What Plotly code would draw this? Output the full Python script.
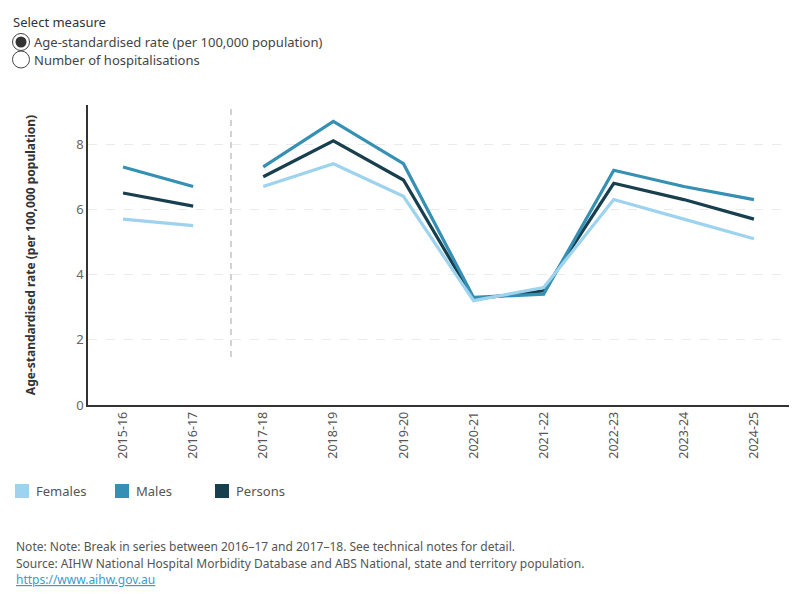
import plotly.graph_objects as go

# ---------------- data ----------------
years = ["2015-16", "2016-17", "2017-18", "2018-19", "2019-20",
         "2020-21", "2021-22", "2022-23", "2023-24", "2024-25"]
females = [5.7, 5.5, 6.7, 7.4, 6.4, 3.2, 3.6, 6.3, 5.7, 5.1]
males = [7.3, 6.7, 7.3, 8.7, 7.4, 3.3, 3.4, 7.2, 6.7, 6.3]
persons = [6.5, 6.1, 7.0, 8.1, 6.9, 3.25, 3.5, 6.8, 6.3, 5.7]
series_names = ["Females", "Males", "Persons"]
series_colors = ["#9dd3ee", "#3590b4", "#183f4e"]
break_after = 2  # series break between 2016-17 and 2017-18
y_ticks = [0, 2, 4, 6, 8]

# ---------------- layout geometry (pixels) ----------------
W, H = 800, 600
L, R, T, B = 88, 11, 105, 195
PW, PH = W - L - R, H - T - B


def px(x):
    return (x - L) / PW


def py(y):
    return (H - B - y) / PH


FONT = "Noto Sans"
fig = go.Figure()

draw_order = [2, 1, 0]  # persons, males, females (females on top)
all_vals = [females, males, persons]
for idx in draw_order:
    name, vals, col = series_names[idx], all_vals[idx], series_colors[idx]
    for seg_x, seg_y in [(years[:break_after], vals[:break_after]),
                         (years[break_after:], vals[break_after:])]:
        fig.add_trace(go.Scatter(
            x=seg_x, y=seg_y, mode="lines", name=name,
            line=dict(color=col, width=3.2), showlegend=False,
            hovertemplate="%{x}: %{y}<extra>" + name + "</extra>"))

shapes = []
# white gap in gridlines around the break
shapes.append(dict(type="rect", xref="x", yref="paper", x0=1.3, x1=1.7, y0=0.003, y1=1,
                   fillcolor="white", line=dict(width=0), layer="below"))
# break line
shapes.append(dict(type="line", xref="x", yref="y", x0=1.54, x1=1.54, y0=1.47, y1=9.2,
                   line=dict(color="#b5b5b5", width=1.2, dash="6px,5px")))

annotations = []
# selector
annotations.append(dict(text="Select measure", xref="paper", yref="paper", x=px(11), y=py(22),
                        xanchor="left", yanchor="middle", showarrow=False,
                        font=dict(family=FONT, size=13, color="#333333")))
radio_labels = ["Age-standardised rate (per 100,000 population)", "Number of hospitalisations"]
radio_y = [42, 59.5]
for i, (lab, yy) in enumerate(zip(radio_labels, radio_y)):
    r = 8.5
    shapes.append(dict(type="circle", xref="paper", yref="paper",
                       x0=px(21 - r), x1=px(21 + r), y0=py(yy + r), y1=py(yy - r),
                       line=dict(color="#444444", width=1), fillcolor="white"))
    if i == 0:
        r2 = 5.5
        shapes.append(dict(type="circle", xref="paper", yref="paper",
                           x0=px(21 - r2), x1=px(21 + r2), y0=py(yy + r2), y1=py(yy - r2),
                           line=dict(color="#333333", width=0), fillcolor="#333333"))
    annotations.append(dict(text=lab, xref="paper", yref="paper", x=px(32), y=py(yy),
                            xanchor="left", yanchor="middle", showarrow=False,
                            font=dict(family=FONT, size=13, color="#444444")))

# legend
leg_x = [15, 115, 215]
for name, col, lx in zip(series_names, series_colors, leg_x):
    shapes.append(dict(type="rect", xref="paper", yref="paper",
                       x0=px(lx), x1=px(lx + 14), y0=py(498), y1=py(484),
                       fillcolor=col, line=dict(width=0)))
    annotations.append(dict(text=name, xref="paper", yref="paper", x=px(lx + 19), y=py(491),
                            xanchor="left", yanchor="middle", showarrow=False,
                            font=dict(family=FONT, size=13, color="#555555")))

# notes
notes = [("Note: Note: Break in series between 2016\u201317 and 2017\u201318. See technical notes for detail.", 546, "#555555"),
         ("Source: AIHW National Hospital Morbidity Database and ABS National, state and territory population.", 563, "#555555"),
         ("<u>https://www.aihw.gov.au</u>", 579, "#3a9ccc")]
for txt, yy, col in notes:
    annotations.append(dict(text=txt, xref="paper", yref="paper", x=px(14), y=py(yy),
                            xanchor="left", yanchor="middle", showarrow=False,
                            font=dict(family=FONT, size=12, color=col)))

fig.update_layout(
    width=W, height=H,
    margin=dict(l=L, r=R, t=T, b=B),
    paper_bgcolor="white", plot_bgcolor="white",
    showlegend=False,
    shapes=shapes, annotations=annotations,
    font=dict(family=FONT, color="#555555"),
    xaxis=dict(type="category", categoryorder="array", categoryarray=years,
               range=[-0.5, len(years) - 0.5], showgrid=False, zeroline=False,
               showline=True, linecolor="#333333", linewidth=1.5,
               tickangle=-90, ticks="", tickfont=dict(family=FONT, size=12.5, color="#555555")),
    yaxis=dict(range=[0, 9.2], tickvals=y_ticks, showgrid=True, gridcolor="#ebebeb",
               griddash="dash", gridwidth=1, zeroline=False,
               showline=True, linecolor="#333333", linewidth=1.5, ticks="",
               tickfont=dict(family=FONT, size=13, color="#666666"),
               title=dict(text="<b>Age-standardised rate (per 100,000 population)</b>",
                          font=dict(family=FONT, size=12, color="#333333"), standoff=38)),
)

fig.write_html("out.html")
